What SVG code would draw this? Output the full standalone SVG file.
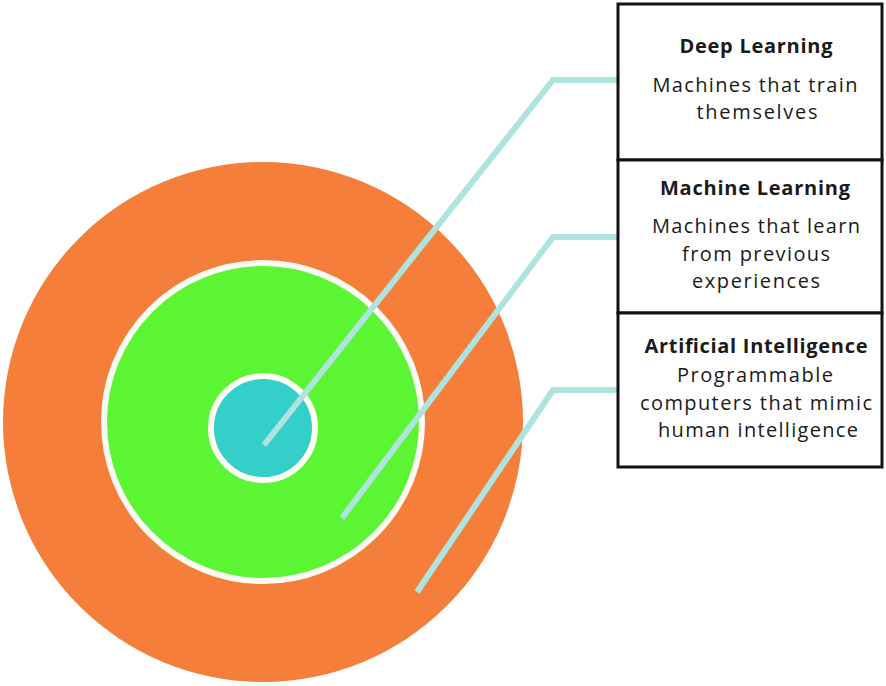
<svg xmlns="http://www.w3.org/2000/svg" width="886" height="686" viewBox="0 0 886 686">
<style>
.ring{stroke:#fdfdf5;stroke-width:6}
.conn{fill:none;stroke:#aee4e0;stroke-width:6;stroke-linejoin:miter}
.box{fill:#fff;stroke:#111;stroke-width:3}
.t{font-family:"Open Sans","Liberation Sans",sans-serif;font-size:20px;fill:#1a1a1a;text-anchor:middle}
.b{font-weight:bold}
</style>
<rect width="886" height="686" fill="#fff"/>
<g id="ai-circle"><circle cx="263" cy="422" r="260" fill="#f57f3a"/></g>
<g id="ml-circle"><circle cx="263" cy="422" r="159" fill="#5cf533" class="ring"/></g>
<g id="dl-circle"><circle cx="263" cy="428" r="52" fill="#33cfc8" class="ring"/></g>
<g id="connectors">
<polyline class="conn" points="264,445 553,80 617,80"/>
<polyline class="conn" points="342,518 553,237 617,237"/>
<polyline class="conn" points="417,592 553,390 617,390"/>
</g>
<g id="dl-box">
<rect class="box" x="618" y="4" width="264" height="156"/>
<text class="t b" x="756" y="53" textLength="153">Deep Learning</text>
<text class="t" x="755" y="92" textLength="205">Machines that train</text>
<text class="t" x="757" y="119" textLength="121">themselves</text>
</g>
<g id="ml-box">
<rect class="box" x="618" y="160" width="264" height="153"/>
<text class="t b" x="755" y="195" textLength="190">Machine Learning</text>
<text class="t" x="756" y="233" textLength="208">Machines that learn</text>
<text class="t" x="756" y="261" textLength="148">from previous</text>
<text class="t" x="756" y="288" textLength="128">experiences</text>
</g>
<g id="ai-box">
<rect class="box" x="618" y="313" width="264" height="154"/>
<text class="t b" x="756" y="353" textLength="223">Artificial Intelligence</text>
<text class="t" x="755" y="382" textLength="156">Programmable</text>
<text class="t" x="756" y="410" textLength="232">computers that mimic</text>
<text class="t" x="758" y="437" textLength="200">human intelligence</text>
</g>
</svg>
